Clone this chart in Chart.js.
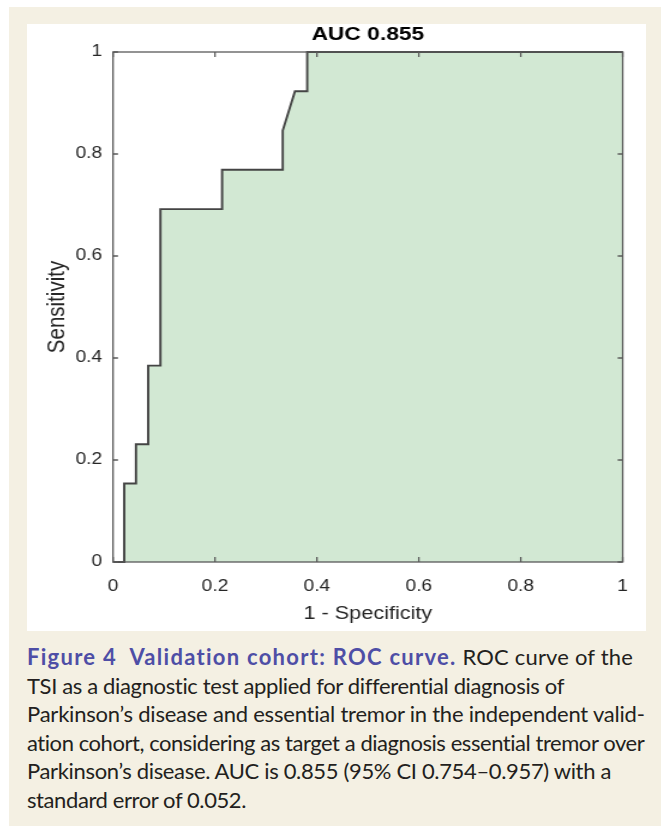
<!DOCTYPE html>
<html>
<head>
<meta charset="utf-8">
<script src="https://cdn.jsdelivr.net/npm/chart.js@4/dist/chart.umd.min.js"></script>
<style>
  html, body { margin: 0; padding: 0; background: #fff; }
  #frame { position: absolute; left: 9px; top: 7px; width: 652px; height: 819px; background: #f4f0e3; }
  #panel { position: absolute; left: 27px; top: 24px; width: 619px; height: 607px; background: #fff; }
  #wrap { position: absolute; left: 27px; top: 24px; width: 516px; height: 607px;
          transform: scaleX(1.1996); transform-origin: 0 0; }
  #caption {
    position: absolute; left: 27px; top: 643px;
    font-family: Lato, "Open Sans", sans-serif; font-size: 22px; line-height: 28.5px;
    color: #231f20; white-space: nowrap;
  }
  #caption span { display: inline-block; }
  #caption b { color: #4e4ea6; }
</style>
</head>
<body>
<div id="frame"></div>
<div id="panel"></div>
<div id="wrap"><canvas id="c" width="516" height="607"></canvas></div>
<div id="caption">
  <span><b>Figure 4&nbsp; Validation cohort: ROC curve.</b> ROC curve of the</span><br>
  <span>TSI as a diagnostic test applied for differential diagnosis of</span><br>
  <span>Parkinson’s disease and essential tremor in the independent valid-</span><br>
  <span>ation cohort, considering as target a diagnosis essential tremor over</span><br>
  <span>Parkinson’s disease. AUC is 0.855 (95% CI 0.754–0.957) with a</span><br>
  <span>standard error of 0.052.</span>
</div>
<script>
const chartTitle = "AUC 0.855";
const xTitle = "1 - Specificity";
const yTitle = "Sensitivity";

// ROC curve corners (1 - specificity, sensitivity)
const fpr = [0, 0.022, 0.022, 0.045, 0.045, 0.069, 0.069, 0.093, 0.093, 0.214, 0.214, 0.333, 0.333, 0.357, 0.381, 0.381, 1];
const tpr = [0, 0, 0.154, 0.154, 0.231, 0.231, 0.385, 0.385, 0.692, 0.692, 0.769, 0.769, 0.846, 0.923, 0.923, 1, 1];

const axisMin = 0;
const axisMax = 1;
const tickStep = 0.2;

// caption line widths in the printed figure (first line: bold lead-in, whole line)
const boldWidth = 430;
const captionWidths = [606, 537, 618, 618, 584, 219];
document.querySelectorAll('#caption span').forEach((s, i) => {
  let n = s.textContent.length;
  const b = s.querySelector('b');
  if (b) {
    const nb = b.textContent.length;
    b.style.letterSpacing = ((boldWidth - b.getBoundingClientRect().width) / nb) + 'px';
    n -= nb;
  }
  const extra = captionWidths[i] - s.getBoundingClientRect().width;
  s.style.letterSpacing = (extra / n) + 'px';
});

// matlab style box with inward ticks on all four sides
const boxPlugin = {
  id: 'matlabBox',
  afterDraw(chart) {
    const {ctx, chartArea: a, scales} = chart;
    const len = 5;
    ctx.save();
    ctx.strokeStyle = '#5a5a5a';
    ctx.lineWidth = 1.3;
    ctx.strokeRect(a.left, a.top, a.right - a.left, a.bottom - a.top);
    ctx.beginPath();
    scales.x.ticks.forEach(t => {
      const px = scales.x.getPixelForValue(t.value);
      ctx.moveTo(px, a.bottom); ctx.lineTo(px, a.bottom - len);
      ctx.moveTo(px, a.top); ctx.lineTo(px, a.top + len);
    });
    scales.y.ticks.forEach(t => {
      const py = scales.y.getPixelForValue(t.value);
      ctx.moveTo(a.left, py); ctx.lineTo(a.left + len / 1.2, py);
      ctx.moveTo(a.right, py); ctx.lineTo(a.right - len / 1.2, py);
    });
    ctx.stroke();
    ctx.restore();
  }
};

const font = 'Liberation Sans, Arial, sans-serif';
const fmt = v => String(Math.round(v * 10) / 10);

new Chart(document.getElementById('c'), {
  type: 'line',
  data: {
    datasets: [{
      data: fpr.map((x, i) => ({x: x, y: tpr[i]})),
      borderColor: '#444',
      borderWidth: 1.9,
      backgroundColor: '#d2e8d3',
      fill: 'origin',
      pointRadius: 0,
      tension: 0,
      clip: 3,
    }]
  },
  options: {
    responsive: false,
    animation: false,
    devicePixelRatio: 1,
    layout: { padding: { top: 0, left: 0, right: 19.3, bottom: 0 } },
    plugins: {
      legend: { display: false },
      tooltip: { enabled: false },
      title: {
        display: true,
        text: chartTitle,
        fullSize: false,
        color: '#000',
        font: { family: font, size: 19, weight: 'bold', lineHeight: 1 },
        padding: { top: 1, bottom: 8 },
      },
    },
    scales: {
      x: {
        type: 'linear',
        min: axisMin, max: axisMax,
        grid: { display: false, drawTicks: false },
        border: { display: false },
        ticks: { stepSize: tickStep, color: '#262626', padding: 15, maxRotation: 0,
                 callback: fmt, font: { family: font, size: 16 } },
        title: { display: true, text: xTitle, color: '#262626',
                 font: { family: font, size: 18 }, padding: { top: 0, bottom: 6 } },
        afterFit(scale) { scale.height = 69; },
      },
      y: {
        min: axisMin, max: axisMax,
        grid: { display: false, drawTicks: false },
        border: { display: false },
        ticks: { stepSize: tickStep, color: '#262626', padding: 9,
                 callback: fmt, font: { family: font, size: 16 } },
        title: { display: true, text: yTitle, color: '#262626',
                 font: { family: font, size: 20.5 }, padding: { top: 13, bottom: 0 } },
        afterFit(scale) { scale.width = 71.7; },
      }
    }
  },
  plugins: [boxPlugin]
});
</script>
</body>
</html>
